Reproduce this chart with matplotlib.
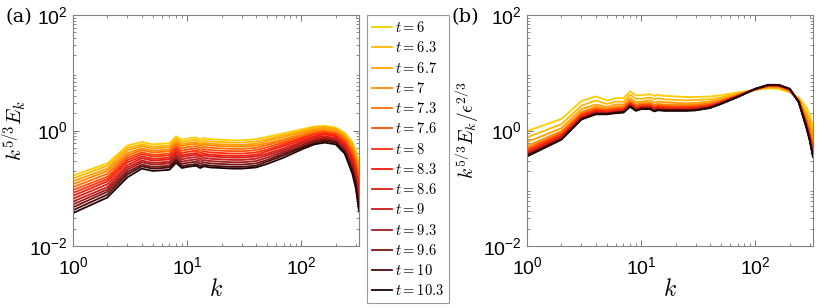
import numpy as np
import matplotlib
matplotlib.use("Agg")
import matplotlib.pyplot as plt
from matplotlib.colors import LinearSegmentedColormap
from matplotlib.ticker import LogLocator, NullFormatter, FixedLocator, FixedFormatter

plt.rcParams['font.family'] = ['Liberation Sans', 'DejaVu Sans']
plt.rcParams['mathtext.fontset'] = 'cm'

# ---------------- data ----------------
k = [1, 2, 3, 4, 5, 6, 7, 8, 9, 10, 12, 13, 14, 16, 20, 25, 30, 40, 50, 70,
     100, 130, 160, 200, 240, 280, 300, 320]

t_labels = ['6', '6.3', '6.7', '7', '7.3', '7.6', '8', '8.3', '8.6', '9',
            '9.3', '9.6', '10', '10.3']

# log10( k^{5/3} E_k ), one row per time
log_spec_a = [
    [-0.78,-0.57,-0.26,-0.20,-0.24,-0.23,-0.22,-0.10,-0.16,-0.14,-0.12,-0.16,-0.13,-0.15,-0.16,-0.17,-0.17,-0.15,-0.11,-0.05,0.02,0.07,0.08,0.05,-0.04,-0.20,-0.35,-0.55],
    [-0.83,-0.61,-0.30,-0.24,-0.28,-0.27,-0.26,-0.14,-0.20,-0.18,-0.16,-0.20,-0.17,-0.19,-0.20,-0.21,-0.21,-0.19,-0.15,-0.08,-0.01,0.05,0.06,0.03,-0.07,-0.24,-0.40,-0.62],
    [-0.88,-0.66,-0.34,-0.27,-0.31,-0.30,-0.29,-0.17,-0.24,-0.22,-0.20,-0.24,-0.21,-0.23,-0.24,-0.25,-0.25,-0.23,-0.18,-0.11,-0.03,0.02,0.04,0.01,-0.10,-0.28,-0.45,-0.68],
    [-0.93,-0.70,-0.39,-0.31,-0.35,-0.34,-0.33,-0.21,-0.27,-0.25,-0.23,-0.27,-0.24,-0.26,-0.27,-0.28,-0.28,-0.26,-0.22,-0.15,-0.06,0.00,0.01,-0.02,-0.12,-0.33,-0.50,-0.75],
    [-0.98,-0.75,-0.43,-0.34,-0.38,-0.37,-0.36,-0.24,-0.31,-0.29,-0.27,-0.31,-0.28,-0.30,-0.31,-0.32,-0.32,-0.30,-0.25,-0.18,-0.09,-0.03,-0.01,-0.04,-0.15,-0.37,-0.55,-0.81],
    [-1.03,-0.80,-0.47,-0.38,-0.42,-0.41,-0.40,-0.28,-0.35,-0.33,-0.31,-0.35,-0.32,-0.34,-0.35,-0.36,-0.36,-0.34,-0.29,-0.21,-0.12,-0.05,-0.03,-0.06,-0.18,-0.41,-0.60,-0.88],
    [-1.08,-0.84,-0.51,-0.41,-0.45,-0.44,-0.43,-0.31,-0.39,-0.37,-0.35,-0.39,-0.36,-0.38,-0.39,-0.40,-0.40,-0.38,-0.33,-0.24,-0.14,-0.07,-0.05,-0.08,-0.21,-0.45,-0.65,-0.94],
    [-1.13,-0.88,-0.55,-0.45,-0.49,-0.48,-0.47,-0.35,-0.43,-0.41,-0.39,-0.43,-0.40,-0.42,-0.43,-0.44,-0.44,-0.42,-0.36,-0.27,-0.17,-0.10,-0.07,-0.10,-0.24,-0.49,-0.70,-1.01],
    [-1.18,-0.93,-0.60,-0.48,-0.52,-0.51,-0.50,-0.38,-0.46,-0.44,-0.42,-0.46,-0.43,-0.45,-0.46,-0.47,-0.47,-0.45,-0.40,-0.31,-0.20,-0.12,-0.10,-0.13,-0.26,-0.54,-0.75,-1.07],
    [-1.23,-0.98,-0.64,-0.52,-0.56,-0.55,-0.54,-0.42,-0.50,-0.48,-0.46,-0.50,-0.47,-0.49,-0.50,-0.51,-0.51,-0.49,-0.43,-0.34,-0.22,-0.15,-0.12,-0.15,-0.29,-0.58,-0.80,-1.14],
    [-1.28,-1.02,-0.68,-0.55,-0.59,-0.58,-0.57,-0.45,-0.54,-0.52,-0.50,-0.54,-0.51,-0.53,-0.54,-0.55,-0.55,-0.53,-0.47,-0.37,-0.25,-0.17,-0.14,-0.17,-0.32,-0.62,-0.85,-1.20],
    [-1.33,-1.06,-0.72,-0.59,-0.63,-0.62,-0.61,-0.49,-0.58,-0.56,-0.54,-0.58,-0.55,-0.57,-0.58,-0.59,-0.59,-0.57,-0.51,-0.40,-0.28,-0.19,-0.16,-0.19,-0.35,-0.66,-0.90,-1.27],
    [-1.38,-1.11,-0.76,-0.62,-0.66,-0.65,-0.64,-0.52,-0.62,-0.60,-0.58,-0.62,-0.59,-0.61,-0.62,-0.63,-0.63,-0.61,-0.54,-0.43,-0.30,-0.22,-0.18,-0.21,-0.38,-0.70,-0.95,-1.33],
    [-1.43,-1.16,-0.81,-0.66,-0.70,-0.69,-0.68,-0.56,-0.65,-0.63,-0.61,-0.65,-0.62,-0.64,-0.65,-0.66,-0.66,-0.64,-0.58,-0.47,-0.33,-0.24,-0.21,-0.24,-0.40,-0.75,-1.00,-1.40],
]

# log10( k^{5/3} E_k / eps^{2/3} ), one row per time
log_spec_b = [
    [-0.01,0.20,0.51,0.59,0.52,0.56,0.56,0.68,0.61,0.61,0.63,0.60,0.62,0.60,0.59,0.58,0.58,0.59,0.61,0.66,0.70,0.73,0.72,0.66,0.57,0.40,0.28,0.05],
    [-0.12,0.11,0.43,0.52,0.46,0.50,0.50,0.62,0.55,0.55,0.57,0.54,0.56,0.54,0.53,0.52,0.53,0.54,0.57,0.64,0.71,0.74,0.74,0.67,0.55,0.32,0.17,-0.07],
    [-0.20,0.04,0.37,0.45,0.41,0.45,0.45,0.56,0.49,0.50,0.52,0.48,0.50,0.49,0.48,0.47,0.48,0.50,0.54,0.62,0.71,0.76,0.75,0.69,0.54,0.25,0.08,-0.17],
    [-0.27,-0.01,0.32,0.41,0.38,0.41,0.42,0.52,0.45,0.47,0.48,0.44,0.46,0.45,0.45,0.44,0.45,0.47,0.52,0.61,0.71,0.77,0.76,0.70,0.52,0.20,0.01,-0.25],
    [-0.31,-0.04,0.30,0.38,0.36,0.39,0.39,0.50,0.43,0.45,0.46,0.42,0.44,0.43,0.42,0.42,0.43,0.46,0.51,0.61,0.71,0.77,0.77,0.70,0.52,0.17,-0.03,-0.29],
    [-0.33,-0.06,0.28,0.36,0.35,0.37,0.38,0.48,0.41,0.44,0.44,0.40,0.42,0.41,0.41,0.41,0.41,0.44,0.50,0.60,0.72,0.77,0.77,0.70,0.51,0.15,-0.06,-0.32],
    [-0.36,-0.08,0.26,0.35,0.33,0.36,0.36,0.47,0.40,0.42,0.43,0.39,0.41,0.40,0.39,0.39,0.40,0.43,0.49,0.60,0.72,0.78,0.78,0.71,0.51,0.12,-0.08,-0.35],
    [-0.38,-0.10,0.24,0.33,0.32,0.34,0.35,0.45,0.38,0.41,0.41,0.37,0.39,0.38,0.38,0.38,0.39,0.42,0.48,0.59,0.72,0.78,0.78,0.71,0.50,0.11,-0.11,-0.38],
    [-0.40,-0.12,0.23,0.32,0.31,0.33,0.34,0.44,0.37,0.40,0.40,0.36,0.38,0.37,0.37,0.37,0.38,0.41,0.48,0.59,0.72,0.78,0.78,0.71,0.50,0.09,-0.13,-0.40],
    [-0.41,-0.13,0.22,0.31,0.30,0.32,0.33,0.43,0.36,0.39,0.39,0.35,0.37,0.36,0.36,0.36,0.37,0.41,0.47,0.59,0.72,0.79,0.78,0.72,0.50,0.08,-0.14,-0.41],
    [-0.42,-0.14,0.21,0.30,0.29,0.32,0.33,0.43,0.36,0.38,0.39,0.35,0.37,0.36,0.36,0.35,0.36,0.40,0.47,0.59,0.72,0.79,0.79,0.72,0.50,0.07,-0.15,-0.43],
    [-0.43,-0.15,0.20,0.29,0.29,0.31,0.32,0.42,0.35,0.38,0.38,0.34,0.36,0.35,0.35,0.35,0.36,0.40,0.47,0.58,0.72,0.79,0.79,0.72,0.49,0.06,-0.16,-0.44],
    [-0.44,-0.15,0.20,0.29,0.29,0.31,0.32,0.42,0.35,0.38,0.38,0.34,0.36,0.35,0.35,0.35,0.35,0.39,0.46,0.58,0.72,0.79,0.79,0.72,0.49,0.06,-0.17,-0.45],
    [-0.45,-0.16,0.19,0.28,0.28,0.30,0.31,0.41,0.34,0.37,0.37,0.33,0.35,0.34,0.34,0.34,0.35,0.39,0.46,0.58,0.72,0.79,0.79,0.72,0.49,0.05,-0.18,-0.46],
]

# ---------------- style ----------------
cmap = LinearSegmentedColormap.from_list(
    'hotish', [(1.0, 0.80, 0.0), (1.0, 0.52, 0.0), (1.0, 0.12, 0.05),
               (0.70, 0.12, 0.12), (0.12, 0.02, 0.02)])
n = len(t_labels)
colors = [cmap(i / (n - 1)) for i in range(n)]

W, H = 822, 308
fig = plt.figure(figsize=(W / 100, H / 100), dpi=100)

def rect(x0, x1, y0, y1):
    return [x0 / W, 1 - y1 / H, (x1 - x0) / W, (y1 - y0) / H]

ax_a = fig.add_axes(rect(73, 359, 15, 246))
ax_b = fig.add_axes(rect(527, 813, 15, 246))

kk = np.array(k, dtype=float)
handles = []
for i in range(n):
    h, = ax_a.plot(kk, 10 ** np.array(log_spec_a[i]), color=colors[i], lw=1.3,
                   label=r'$t = ' + t_labels[i] + '$')
    handles.append(h)
    ax_b.plot(kk, 10 ** np.array(log_spec_b[i]), color=colors[i], lw=1.3)

for ax in (ax_a, ax_b):
    ax.set_xscale('log')
    ax.set_yscale('log')
    ax.set_xlim(1, 320)
    ax.set_ylim(1e-2, 1e2)
    ax.xaxis.set_major_locator(FixedLocator([1, 10, 100]))
    ax.xaxis.set_major_formatter(FixedFormatter([r'$\mathregular{10^{0}}$', r'$\mathregular{10^{1}}$', r'$\mathregular{10^{2}}$']))
    ax.yaxis.set_major_locator(FixedLocator([1e-2, 1, 1e2]))
    ax.yaxis.set_major_formatter(FixedFormatter([r'$\mathregular{10^{-2}}$', r'$\mathregular{10^{0}}$', r'$\mathregular{10^{2}}$']))
    ax.xaxis.set_minor_locator(LogLocator(base=10, subs=np.arange(2, 10), numticks=20))
    ax.yaxis.set_minor_locator(LogLocator(base=10, subs=np.arange(2, 10), numticks=20))
    ax.xaxis.set_minor_formatter(NullFormatter())
    ax.yaxis.set_minor_formatter(NullFormatter())
    ax.tick_params(which='both', direction='in', top=True, right=True,
                   colors='0.35', labelcolor='black', labelsize=14)
    ax.tick_params(which='major', length=4, width=0.6)
    ax.tick_params(which='minor', length=2, width=0.5)
    ax.tick_params(axis='x', which='major', pad=7)
    ax.tick_params(axis='y', which='major', pad=4)
    for sp in ax.spines.values():
        sp.set_color('0.5')
        sp.set_linewidth(0.8)
    ax.set_xlabel(r'$k$', fontsize=17, labelpad=1)

ax_a.set_ylabel(r'$k^{5/3}E_k$', fontsize=15, labelpad=0)
ax_b.set_ylabel(r'$k^{5/3}E_k/\epsilon^{2/3}$', fontsize=14, labelpad=1)

fig.text(5 / W, 1 - 17 / H, '(a)', fontsize=14, family='DejaVu Serif', va='center')
fig.text(451 / W, 1 - 17 / H, '(b)', fontsize=14, family='DejaVu Serif', va='center')

leg = fig.legend(handles=handles, loc='upper left',
                 bbox_to_anchor=(367 / W, 1 - 15 / H), borderaxespad=0,
                 fontsize=10.5, frameon=True, fancybox=False, handlelength=1.35,
                 handletextpad=0.2, labelspacing=0.36, borderpad=0.35)
leg.get_frame().set_edgecolor('0.5')
leg.get_frame().set_linewidth(0.8)

fig.savefig('out.png', dpi=100)
